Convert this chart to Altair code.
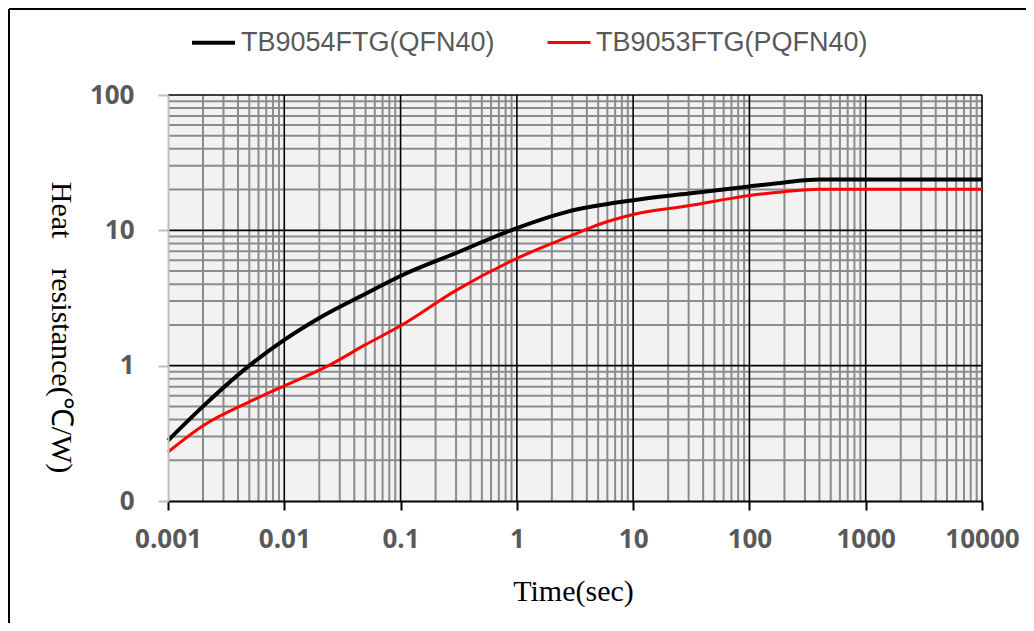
import altair as alt
import pandas as pd

# Series names
names = ["TB9054FTG(QFN40)", "TB9053FTG(PQFN40)"]

# TB9054FTG(QFN40) - black curve
time_black = [0.001, 0.002, 0.005, 0.01, 0.02, 0.05, 0.1, 0.3, 1, 2.7, 10, 30, 100, 200, 400, 1000, 10000]
res_black = [0.28, 0.5, 1.0, 1.55, 2.25, 3.4, 4.6, 6.8, 10.4, 13.7, 16.7, 18.7, 21.1, 22.6, 23.7, 23.7, 23.7]

# TB9053FTG(PQFN40) - red curve
time_red = [0.001, 0.002, 0.005, 0.01, 0.024, 0.05, 0.1, 0.3, 1, 3, 5, 10, 30, 100, 200, 400, 1000, 10000]
res_red = [0.23, 0.36, 0.54, 0.71, 1.0, 1.43, 1.97, 3.6, 6.2, 9.2, 11.0, 13.1, 15.2, 18.1, 19.3, 20.1, 20.1, 20.1]

# Axis ticks / grid values
x_ticks = [0.001, 0.01, 0.1, 1, 10, 100, 1000, 10000]
y_ticks = [0.1, 1, 10, 100]
major_x = [0.01, 0.1, 1, 10, 100, 1000, 10000]
major_y = [1, 10, 100]
minor_x = [m * 10.0 ** e for e in range(-3, 4) for m in range(2, 10)]
minor_y = [m * 10.0 ** e for e in range(-1, 2) for m in range(2, 10)]

df = pd.concat([
    pd.DataFrame({"t": time_black, "v": res_black, "series": names[0]}),
    pd.DataFrame({"t": time_red, "v": res_red, "series": names[1]}),
])

W, H = 814, 406
xscale = alt.Scale(type="log", domain=[0.001, 10000], nice=False)
yscale = alt.Scale(type="log", domain=[0.1, 100], nice=False)

xaxis = alt.Axis(values=x_ticks, format="~g", grid=False,
                 labelFlush=False, labelOverlap=False,
                 domainColor="#000000", domainWidth=2,
                 tickColor="#000000", tickWidth=2, tickSize=9,
                 labelFont="Open Sans", labelFontSize=26, labelFontWeight="bold",
                 labelColor="#595959", labelPadding=16,
                 titleFont="Liberation Serif", titleFontSize=30, titleFontWeight="normal",
                 titleColor="#000000", titleX=405, titleY=90, titleBaseline="middle",
                 zindex=1)
yaxis = alt.Axis(values=y_ticks, grid=False, labelFlush=False, labelOverlap=False,
                 labelExpr="datum.value < 0.5 ? '0' : format(datum.value, '~g')",
                 domainColor="#bfbfbf", domainWidth=2,
                 tickColor="#bfbfbf", tickWidth=2, tickSize=10,
                 labelFont="Open Sans", labelFontSize=26, labelFontWeight="bold",
                 labelColor="#595959", labelPadding=24,
                 titleFont="Liberation Serif", titleFontSize=30, titleFontWeight="normal",
                 titleColor="#000000", titleAngle=90, titleX=-108, titleY=232,
                 titleAlign="center", titleBaseline="middle", zindex=1)

X = alt.X("t:Q", scale=xscale, title="Time(sec)", axis=xaxis)
Y = alt.Y("v:Q", scale=yscale, title="Heat\u00a0\u00a0\u00a0\u00a0resistance(℃/W)", axis=yaxis)

minor_x_layer = alt.Chart(pd.DataFrame({"t": minor_x})).mark_rule(
    color="#8c8c8c", strokeWidth=2).encode(x=X)
minor_y_layer = alt.Chart(pd.DataFrame({"v": minor_y})).mark_rule(
    color="#8c8c8c", strokeWidth=2).encode(y=Y)
major_x_layer = alt.Chart(pd.DataFrame({"t": major_x})).mark_rule(
    color="#000000", strokeWidth=1.6).encode(x=X)
major_y_layer = alt.Chart(pd.DataFrame({"v": major_y})).mark_rule(
    color="#000000", strokeWidth=1.6).encode(y=Y)

lines = alt.Chart(df).mark_line(interpolate="monotone").encode(
    x=X,
    y=Y,
    color=alt.Color("series:N", scale=alt.Scale(domain=names, range=["#000000", "#ff0000"]),
                    legend=alt.Legend(orient="none", legendX=22, legendY=-76, direction="horizontal",
                                      title=None, symbolType="stroke", symbolSize=1849,
                                      symbolStrokeWidth=4, labelFont="Liberation Sans",
                                      labelFontSize=27, labelColor="#595959", labelLimit=500,
                                      columnPadding=46, labelOffset=4, padding=0)),
    strokeWidth=alt.StrokeWidth("series:N", scale=alt.Scale(domain=names, range=[4, 3]), legend=None),
)

frame_top = alt.Chart(pd.DataFrame({"a": [0]})).mark_rule(color="#000000", strokeWidth=2).encode(
    x=alt.value(-159), x2=alt.value(W + 44), y=alt.value(-86))
frame_left = alt.Chart(pd.DataFrame({"a": [0]})).mark_rule(color="#000000", strokeWidth=2).encode(
    x=alt.value(-159), y=alt.value(-86), y2=alt.value(H + 122))

chart = alt.layer(
    minor_x_layer, minor_y_layer, major_x_layer, major_y_layer, lines, frame_top, frame_left
).properties(
    width=W, height=H,
    autosize=alt.AutoSizeParams(type="none"),
    padding={"left": 160, "top": 87, "right": 44, "bottom": 122},
).configure_view(fill="#f2f2f2", strokeWidth=0)

chart.save("out.html", embed_options={"renderer": "svg", "actions": False})
